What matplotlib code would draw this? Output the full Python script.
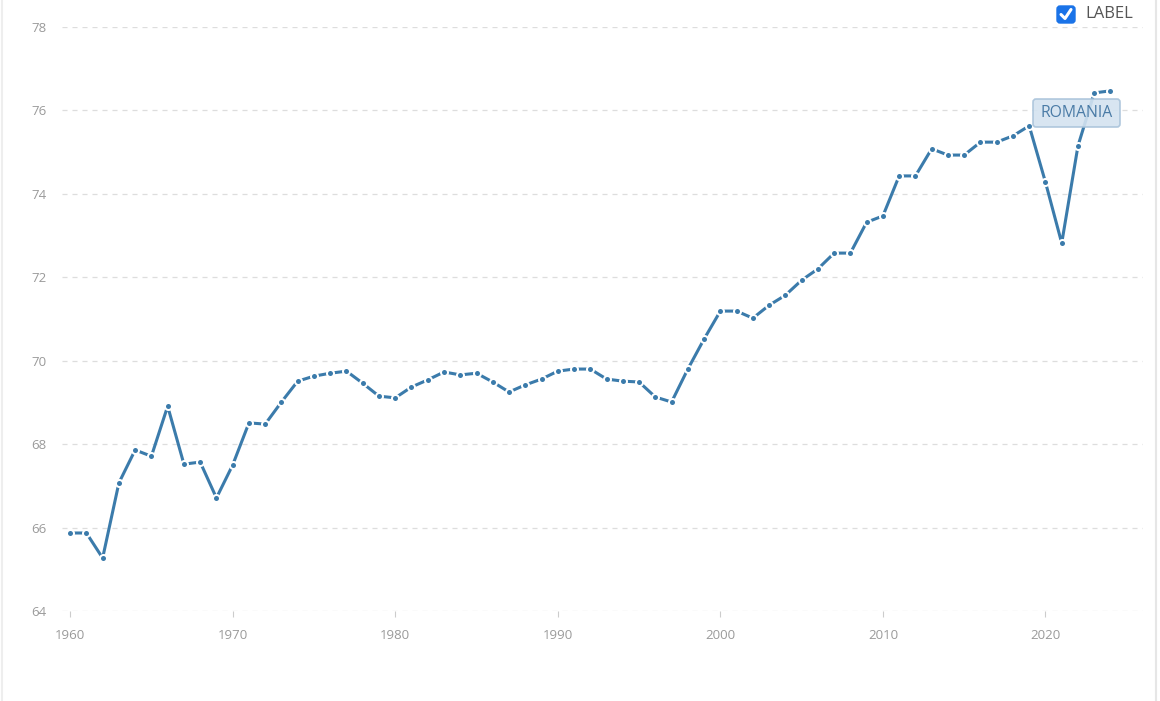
import numpy as np
import matplotlib.pyplot as plt
from matplotlib.patches import FancyBboxPatch
from matplotlib.lines import Line2D

plt.rcParams['font.family'] = ['Open Sans', 'DejaVu Sans']

# life expectancy, Romania
years = list(range(1960, 2025))
values = [65.87, 65.87, 65.27, 67.07, 67.86, 67.71, 68.91, 67.52, 67.57, 66.71,
          67.50, 68.51, 68.48, 69.01, 69.51, 69.63, 69.70, 69.75, 69.46, 69.15,
          69.11, 69.37, 69.54, 69.73, 69.66, 69.70, 69.49, 69.25, 69.42, 69.56,
          69.75, 69.80, 69.80, 69.56, 69.51, 69.49, 69.13, 69.01, 69.80, 70.52,
          71.19, 71.19, 71.02, 71.33, 71.57, 71.93, 72.20, 72.58, 72.58, 73.32,
          73.47, 74.43, 74.43, 75.08, 74.93, 74.93, 75.24, 75.24, 75.39, 75.63,
          74.28, 72.82, 75.15, 76.42, 76.47]
yticks = [64, 66, 68, 70, 72, 74, 76, 78]
xticks = [1960, 1970, 1980, 1990, 2000, 2010, 2020]
series_name = "ROMANIA"

line_col = '#3b7bab'
tick_col = '#9a9a9a'

fig = plt.figure(figsize=(11.6, 7.01), dpi=100)
ax = fig.add_axes([62/1160, 1-611/701, (1143-62)/1160, (611-27)/701])

# line, then white halo at each point, then the dot itself
ax.plot(years, values, color=line_col, lw=2.2, solid_capstyle='butt', zorder=3)
ax.plot(years, values, ls='none', marker='o', ms=6.5, mfc='white', mec='none', zorder=4)
ax.plot(years, values, ls='none', marker='o', ms=3.6, mfc=line_col, mec='none', zorder=5)

ax.set_xlim(1959.5, 2026)
ax.set_ylim(64, 78)
ax.set_yticks(yticks)
ax.set_xticks(xticks)
ax.grid(axis='y', color='#dddddd', ls=(0, (4, 4)), lw=0.9)
for s in ax.spines.values():
    s.set_visible(False)
ax.tick_params(axis='y', length=0, pad=11, labelsize=9.5, labelcolor=tick_col)
ax.tick_params(axis='x', length=4, width=0.8, color='#cccccc', pad=9,
               labelsize=9.5, labelcolor=tick_col)

# series label box
box = FancyBboxPatch((1033, 701-127), 87, 28, boxstyle='round,pad=0,rounding_size=3',
                     transform=None, fc='#d4e3f0', ec='#a9c3da', lw=1.2,
                     alpha=0.9, zorder=6)
fig.add_artist(box)
fig.text(1076.5/1160, 1-113/701, series_name, ha='center', va='center',
         fontsize=11.3, color='#4a7ba6', zorder=7)

# checkbox legend
cb = FancyBboxPatch((1057, 701-23), 18, 17, boxstyle='round,pad=0,rounding_size=3',
                    transform=None, fc='#1a73e8', ec='#1a73e8', lw=1, zorder=5)
fig.add_artist(cb)
fig.add_artist(Line2D([1061/1160, 1065/1160, 1071/1160],
                      [1-14.5/701, 1-18.5/701, 1-9.5/701],
                      color='white', lw=2.2, solid_capstyle='round', zorder=6))
fig.text(1085/1160, 1-14.5/701, "LABEL", ha='left', va='center',
         fontsize=12, color='#555555')

# card borders
fig.add_artist(Line2D([2/1160, 2/1160], [0, 1], color='#eeeeee', lw=1.5))
fig.add_artist(Line2D([1156/1160, 1156/1160], [0, 1], color='#e6e6e6', lw=1.5))

fig.savefig('out.png', dpi=100, facecolor='white')
